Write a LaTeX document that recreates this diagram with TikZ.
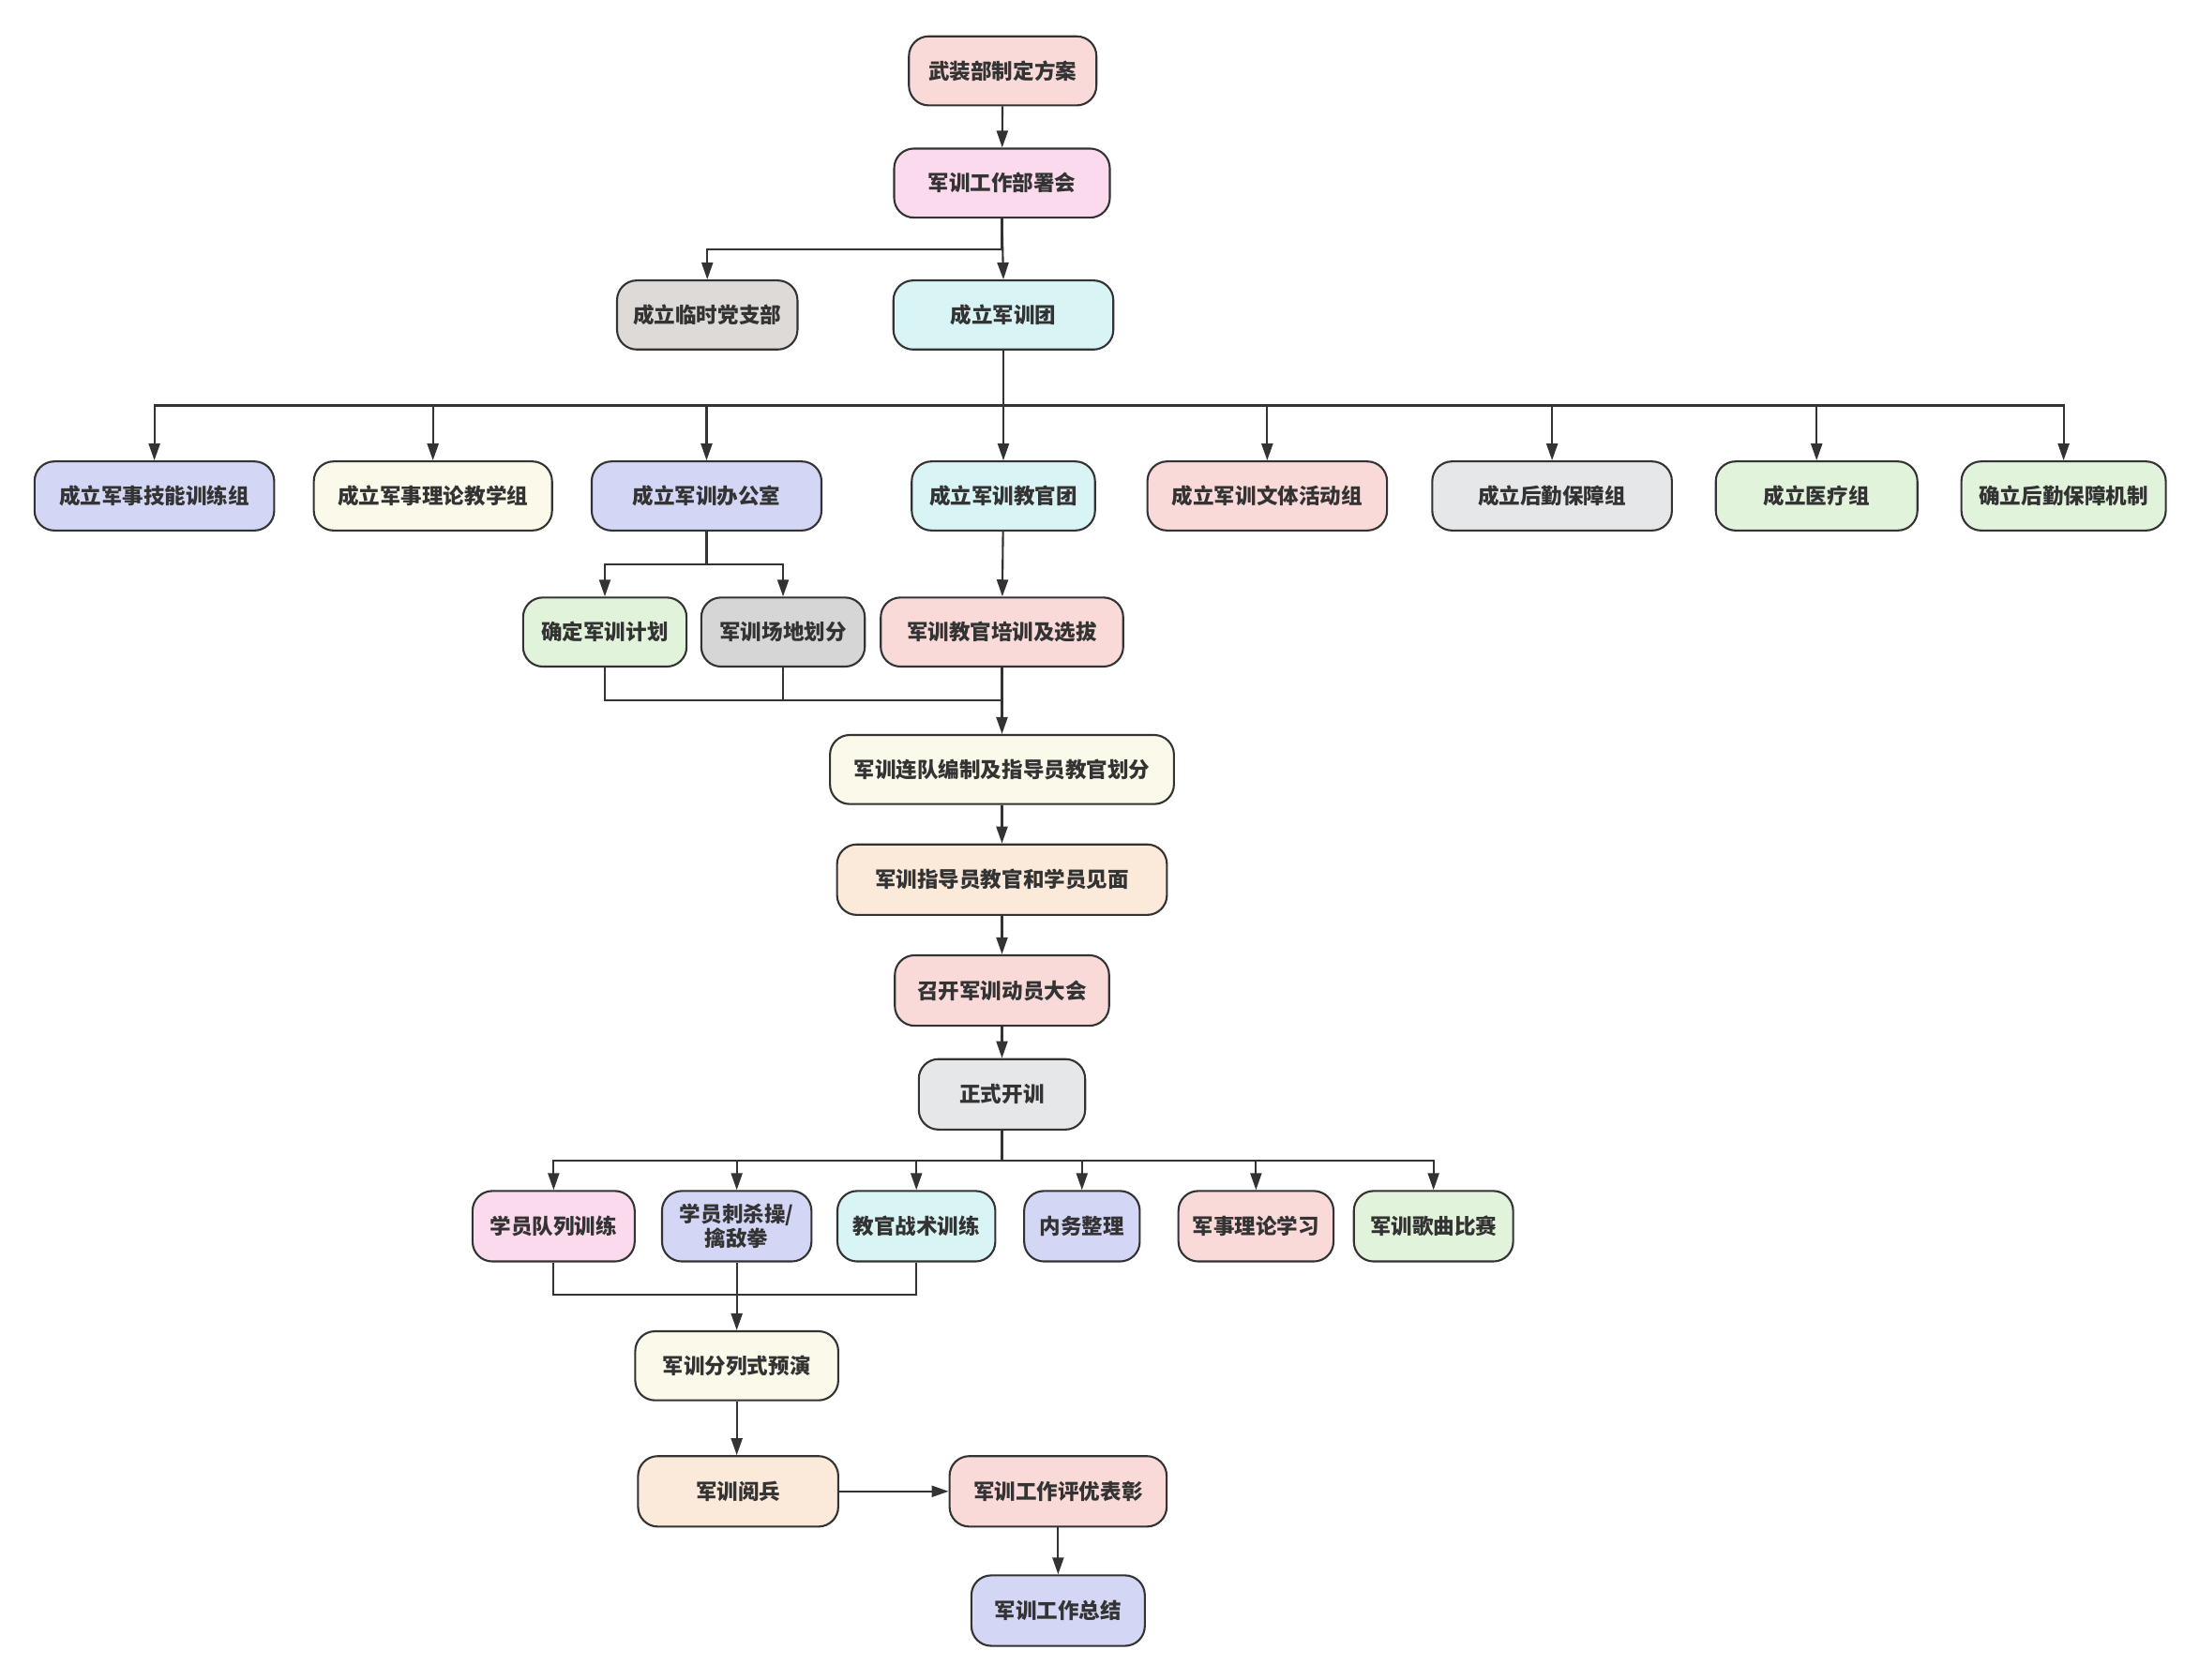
\documentclass[tikz,border=0pt]{standalone}
\usepackage{fontspec}
\newfontfamily\cjk{Noto Sans CJK SC}
\usetikzlibrary{arrows.meta}
\definecolor{cPink}{HTML}{F9DAD9}
\definecolor{cRose}{HTML}{FADAEC}
\definecolor{cStone}{HTML}{DEDAD8}
\definecolor{cCyan}{HTML}{D9F4F4}
\definecolor{cLav}{HTML}{D3D6F5}
\definecolor{cCream}{HTML}{FBF9EA}
\definecolor{cGray}{HTML}{E6E7E9}
\definecolor{cGreen}{HTML}{E1F3DA}
\definecolor{cSilver}{HTML}{D6D6D6}
\definecolor{cPeach}{HTML}{FBE9DA}
\definecolor{cInk}{HTML}{333333}
\begin{document}
\begin{tikzpicture}[
        x=0.9955pt, y=-0.9955pt,
        every node/.style={draw=cInk, line width=1.4pt, rounded corners=14pt,
            minimum height=49pt, inner xsep=4pt, align=center,
            text=cInk, font=\cjk\bfseries\fontsize{15}{18}\selectfont},
        arr/.style={draw=cInk, line width=1.4pt, -{Triangle[length=12pt,width=8pt]}},
        ln/.style={draw=cInk, line width=1.4pt}
    ]
        \useasboundingbox (0,0) rectangle (1567,1197.4);

        % Các nút chính
        \node[fill=cPink, minimum width=133] (A) at (714.5,50.5) {武装部制定方案};
        \node[fill=cRose, minimum width=153] (B) at (714,130.5) {军训工作部署会};
        \node[fill=cStone, minimum width=128] (C) at (504,224.5) {成立临时党支部};
        \node[fill=cCyan, minimum width=156] (D) at (715,224.5) {成立军训团};

        \node[fill=cLav, minimum width=170] (E1) at (110,353.5) {成立军事技能训练组};
        \node[fill=cCream, minimum width=169] (E2) at (308.5,353.5) {成立军事理论教学组};
        \node[fill=cLav, minimum width=163] (E3) at (503.5,353.5) {成立军训办公室};
        \node[fill=cCyan, minimum width=130] (E4) at (715,353.5) {成立军训教官团};
        \node[fill=cPink, minimum width=170] (E5) at (903,353.5) {成立军训文体活动组};
        \node[fill=cGray, minimum width=170] (E6) at (1106,353.5) {成立后勤保障组};
        \node[fill=cGreen, minimum width=143] (E7) at (1294.5,353.5) {成立医疗组};
        \node[fill=cGreen, minimum width=145] (E8) at (1470.5,353.5) {确立后勤保障机制};

        \node[fill=cGreen, minimum width=116] (F1) at (431,450.5) {确定军训计划};
        \node[fill=cSilver, minimum width=116] (F2) at (558,450.5) {军训场地划分};
        \node[fill=cPink, minimum width=172] (F3) at (714,450.5) {军训教官培训及选拔};

        \node[fill=cCream, minimum width=244] (G) at (714,548.5) {军训连队编制及指导员教官划分};
        \node[fill=cPeach, minimum width=234, minimum height=50] (H) at (714,627) {军训指导员教官和学员见面};
        \node[fill=cPink, minimum width=152, minimum height=50] (I) at (714,706) {召开军训动员大会};
        \node[fill=cGray, minimum width=118, minimum height=50] (J) at (714,780) {正式开训};

        \node[fill=cRose, minimum width=115, minimum height=50] (K1) at (394.5,874) {学员队列训练};
        \node[fill=cLav, minimum width=106, minimum height=50, font=\cjk\bfseries\fontsize{15}{17}\selectfont] (K2) at (525,874) {学员刺杀操/\\擒敌拳};
        \node[fill=cCyan, minimum width=112, minimum height=50] (K3) at (653,874) {教官战术训练};
        \node[fill=cLav, minimum width=82, minimum height=50] (K4) at (771,874) {内务整理};
        \node[fill=cPink, minimum width=110, minimum height=50] (K5) at (895,874) {军事理论学习};
        \node[fill=cGreen, minimum width=113, minimum height=50] (K6) at (1021.5,874) {军训歌曲比赛};

        \node[fill=cCream, minimum width=144] (L) at (525,973.5) {军训分列式预演};
        \node[fill=cPeach, minimum width=142, minimum height=50] (M) at (526,1063) {军训阅兵};
        \node[fill=cPink, minimum width=154, minimum height=50] (N) at (754,1063) {军训工作评优表彰};
        \node[fill=cLav, minimum width=123, minimum height=50] (O) at (754,1148) {军训工作总结};

        % Các điểm rẽ nhánh
        \coordinate (b1) at (714,178);
        \coordinate (b2) at (715,289);
        \coordinate (b3) at (503.5,402);
        \coordinate (b4) at (714,499);
        \coordinate (b5) at (714,827);
        \coordinate (b6) at (525,923);

        % Các liên kết
        \draw[arr] (A) -- (B);
        \draw[arr] (B.south) -- (b1) -| (C.north);
        \draw[arr] (B.south) -- (D.north);
        \foreach \n in {E1,E2,E3,E5,E6,E7,E8}
            \draw[arr] (D.south) -- (b2) -| (\n.north);
        \draw[arr] (D.south) -- (E4.north);
        \draw[arr] (E3.south) -- (b3) -| (F1.north);
        \draw[arr] (E3.south) -- (b3) -| (F2.north);
        \draw[arr] (E4) -- (F3);
        \draw[ln] (F1.south) |- (b4);
        \draw[ln] (F2.south) |- (b4);
        \draw[arr] (F3) -- (G);
        \draw[arr] (G) -- (H);
        \draw[arr] (H) -- (I);
        \draw[arr] (I) -- (J);
        \foreach \n in {K1,K2,K3,K4,K5,K6}
            \draw[arr] (J.south) -- (b5) -| (\n.north);
        \draw[ln] (K1.south) |- (b6);
        \draw[ln] (K3.south) |- (b6);
        \draw[arr] (K2) -- (L);
        \draw[arr] (L.south) -- (L.south |- M.north);
        \draw[arr] (M) -- (N);
        \draw[arr] (N) -- (O);
    \end{tikzpicture}
\end{document}
